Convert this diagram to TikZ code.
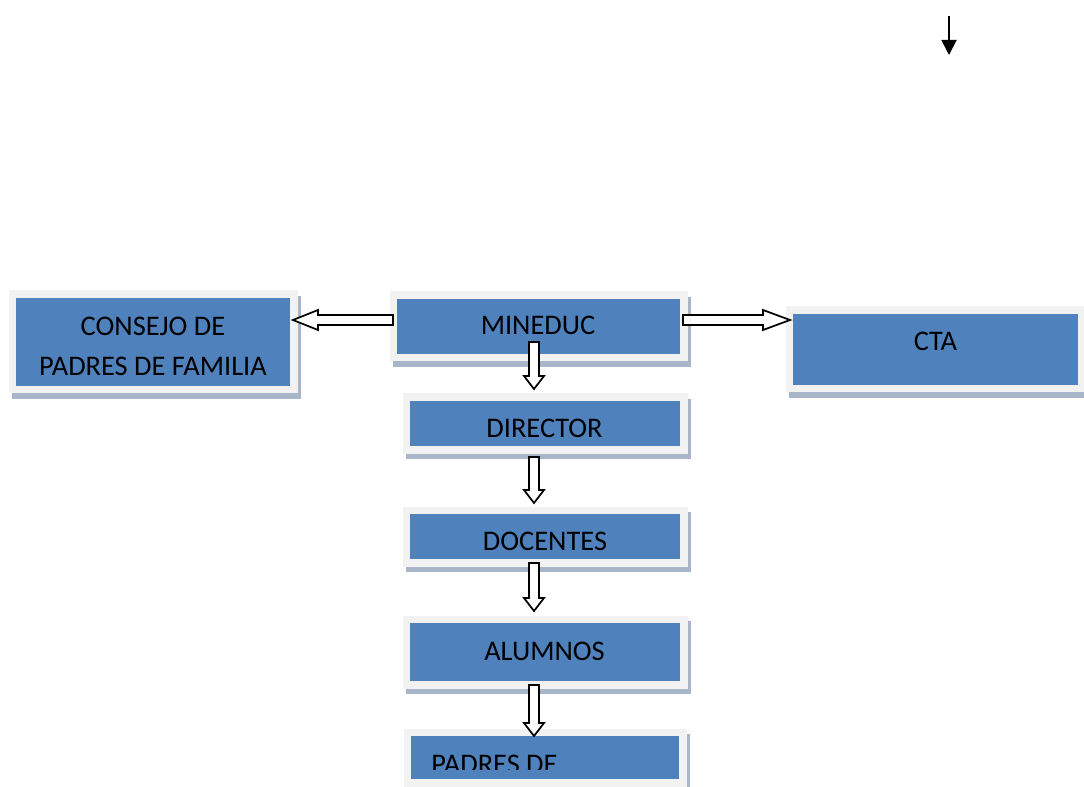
\documentclass[tikz,border=0pt]{standalone}
\usepackage{fontspec}
\setmainfont{Carlito}
\usetikzlibrary{arrows.meta,calc,shadows}
\definecolor{boxblue}{HTML}{4F81BD}
\definecolor{boxframe}{HTML}{F2F2F2}
\definecolor{boxshadow}{HTML}{A9B5C9}
\newcommand{\pxu}{0.75pt}
\newcommand{\blockarrow}[3][13]{%
  \coordinate (bah) at ($(#3)!#1*\pxu!(#2)$);
  \draw[blockarr] ($(#2)!5*\pxu!90:(#3)$) -- ($(bah)!5*\pxu!90:(#3)$) -- ($(bah)!10*\pxu!90:(#3)$)
    -- (#3) -- ($(bah)!10*\pxu!-90:(#3)$) -- ($(bah)!5*\pxu!-90:(#3)$) -- ($(#2)!5*\pxu!-90:(#3)$) -- cycle;}
\begin{document}
\begin{tikzpicture}[x=\pxu, y=-\pxu,
  orgbox/.style={fill=boxframe, inner sep=0pt, outer sep=0pt,
    drop shadow={shadow xshift=2.25pt, shadow yshift=-4pt, fill=boxshadow, opacity=1},
    path picture={\fill[boxblue] ([shift={(5.625pt,-5.625pt)}]path picture bounding box.north west)
      rectangle ([shift={(-5.625pt,5.625pt)}]path picture bounding box.south east);}},
  orgtext/.style={font=\fontsize{21.3}{30}\selectfont, align=center, inner sep=0pt},
  blockarr/.style={draw=black, fill=white, line width=1.3pt, line join=miter}]
\useasboundingbox (0,0) rectangle (1084,787);
\clip (0,0) rectangle (1084,787);

\node[orgbox, minimum width=289*\pxu, minimum height=103*\pxu] (consejo) at (153,342) {};
\node[orgbox, minimum width=298*\pxu, minimum height=70*\pxu] (mineduc) at (538.5,326.5) {};
\node[orgbox, minimum width=300*\pxu, minimum height=86*\pxu] (cta) at (935.5,349.5) {};
\node[orgbox, minimum width=285*\pxu, minimum height=60*\pxu] (director) at (545,423.5) {};
\node[orgbox, minimum width=285*\pxu, minimum height=60*\pxu] (docentes) at (545,536.5) {};
\node[orgbox, minimum width=285*\pxu, minimum height=73*\pxu] (alumnos) at (545,652) {};
\node[orgbox, minimum width=283*\pxu, minimum height=58*\pxu] (padres) at (545,757.5) {};

\node[orgtext] (consejo-t) at (153,346) {CONSEJO DE\\PADRES DE FAMILIA};
\node[orgtext] (mineduc-t) at (538,325.5) {MINEDUC};
\node[orgtext] (cta-t) at (935.5,341.5) {CTA};
\node[orgtext] (director-t) at (544.5,428.5) {DIRECTOR};
\node[orgtext] (docentes-t) at (545,541.5) {DOCENTES};
\node[orgtext] (alumnos-t) at (544.5,651.5) {ALUMNOS};
\begin{scope}
\clip (411,736) rectangle (679,769);
\node[orgtext, anchor=base west] (padres-t) at (431,773) {PADRES DE};
\end{scope}

\coordinate (mineduc-w) at (393,320);
\coordinate (consejo-e) at (293,320);
\coordinate (mineduc-e) at (683,320);
\coordinate (cta-w) at (790,320);
\coordinate (mineduc-s) at (534,342);
\coordinate (director-n) at (534,389);
\coordinate (director-s) at (534,457);
\coordinate (docentes-n) at (534,503);
\coordinate (docentes-s) at (534,563);
\coordinate (alumnos-n) at (534,611);
\coordinate (alumnos-s) at (534,685);
\coordinate (padres-n) at (534,736);

\blockarrow[25]{mineduc-w}{consejo-e}
\blockarrow[27]{mineduc-e}{cta-w}
\blockarrow{mineduc-s}{director-n}
\blockarrow{director-s}{docentes-n}
\blockarrow{docentes-s}{alumnos-n}
\blockarrow{alumnos-s}{padres-n}

\coordinate (top-s) at (949,16);
\coordinate (top-e) at (949,55);
\draw[line width=1.4pt, -{Triangle[length=11.25pt, width=11.25pt]}] (top-s) -- (top-e);
\end{tikzpicture}
\end{document}
